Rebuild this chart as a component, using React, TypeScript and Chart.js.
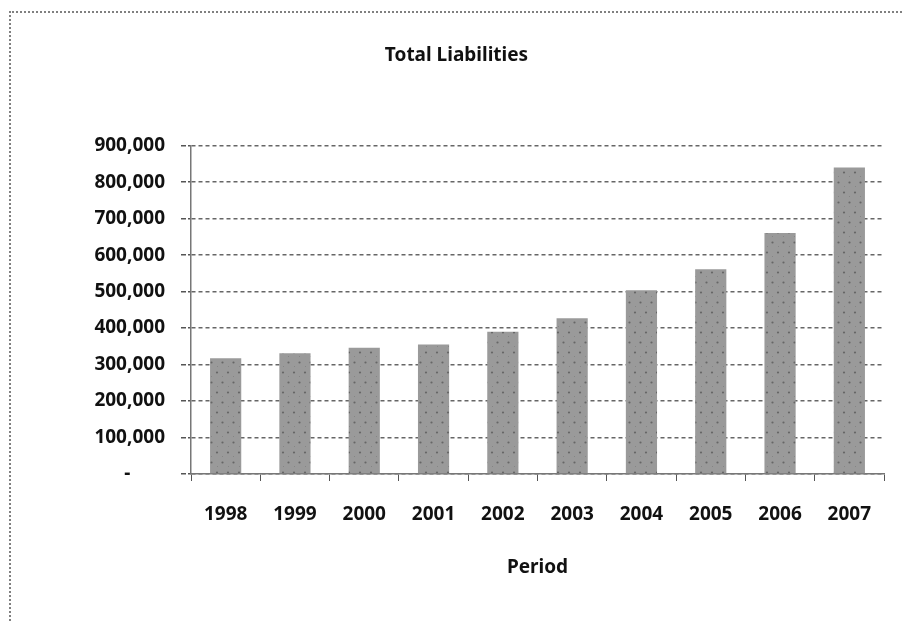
import React, { useEffect, useRef } from "react";
import { Chart, registerables } from "chart.js";

Chart.register(...registerables);

const years = ["1998", "1999", "2000", "2001", "2002", "2003", "2004", "2005", "2006", "2007"];
const totalLiabilities = [317000, 331000, 346000, 355000, 390000, 427000, 504000, 561000, 661000, 840000];
const yTicks = [0, 100000, 200000, 300000, 400000, 500000, 600000, 700000, 800000, 900000];

const FONT = "'Noto Sans', 'DejaVu Sans', sans-serif";

// grey fill with a staggered dot texture
function makeDotPattern(ctx: CanvasRenderingContext2D): CanvasPattern | string {
  const tile = document.createElement("canvas");
  tile.width = 11;
  tile.height = 20;
  const t = tile.getContext("2d");
  if (!t) return "#9a9a9a";
  t.fillStyle = "#9a9a9a";
  t.fillRect(0, 0, 11, 20);
  t.fillStyle = "#666";
  t.beginPath();
  t.arc(2.5, 2.5, 1.1, 0, Math.PI * 2);
  t.arc(8, 12.5, 1.1, 0, Math.PI * 2);
  t.fill();
  t.fillStyle = "#858585";
  t.fillRect(8, 6, 1, 1);
  t.fillRect(2, 16, 1, 1);
  return ctx.createPattern(tile, "repeat") || "#9a9a9a";
}

export default function App() {
  const canvasRef = useRef<HTMLCanvasElement | null>(null);

  useEffect(() => {
    const canvas = canvasRef.current;
    if (!canvas) return;
    const ctx = canvas.getContext("2d");
    if (!ctx) return;
    const fill = makeDotPattern(ctx);

    const chart = new Chart(canvas, {
      type: "bar",
      data: {
        labels: years,
        datasets: [
          {
            label: "Total Liabilities",
            data: totalLiabilities,
            backgroundColor: fill as any,
            borderWidth: 0,
            categoryPercentage: 1,
            barPercentage: 0.45,
          },
        ],
      },
      options: {
        responsive: false,
        animation: false,
        layout: { padding: { left: 29, right: 19, top: 0, bottom: 0 } },
        plugins: {
          legend: { display: false },
          tooltip: { enabled: false },
          title: {
            display: true,
            text: "Total Liabilities",
            color: "#111",
            font: { family: FONT, size: 19, weight: "bold" },
            padding: { top: 44.6, bottom: 78.3 },
          },
        },
        scales: {
          x: {
            offset: true,
            grid: {
              offset: true,
              drawOnChartArea: false,
              drawTicks: true,
              tickLength: 7,
              tickColor: "#555",
              lineWidth: 1,
            },
            border: { display: true, color: "#777", width: 1.5 },
            ticks: {
              color: "#111",
              padding: 22.6,
              font: { family: FONT, size: 19, weight: "bold" },
            },
            title: {
              display: true,
              text: "Period",
              color: "#111",
              font: { family: FONT, size: 19, weight: "bold" },
              padding: { top: 0, bottom: 43.6 },
            },
            afterFit: (scale: any) => {
              scale.height = 149;
            },
          },
          y: {
            min: 0,
            max: 900000,
            afterBuildTicks: (scale: any) => {
              scale.ticks = yTicks.map((v) => ({ value: v }));
            },
            grid: {
              color: "#666",
              lineWidth: 1.5,
              tickLength: 10,
              tickColor: "#555",
              tickBorderDash: [5, 2],
            },
            border: { display: true, color: "#777", width: 1.5, dash: [4, 3] },
            ticks: {
              color: "#111",
              padding: 16,
              font: { family: FONT, size: 19, weight: "bold" },
              callback: (value: any) =>
                Number(value) === 0 ? "-       " : Number(value).toLocaleString("en-US"),
            },
            afterFit: (scale: any) => {
              scale.width = 162;
            },
          },
        },
      },
    });

    return () => chart.destroy();
  }, []);

  return (
    <div style={{ position: "absolute", left: 0, top: 0, width: 903, height: 623, background: "#fff" }}>
      <div
        style={{
          position: "absolute",
          left: 9,
          top: 11,
          width: 894,
          height: 612,
          borderTop: "2px dotted #808080",
          borderLeft: "2px dotted #808080",
        }}
      />
      <canvas
        ref={canvasRef}
        width={903}
        height={623}
        style={{ position: "absolute", left: 0, top: 0, width: 903, height: 623 }}
      />
    </div>
  );
}
